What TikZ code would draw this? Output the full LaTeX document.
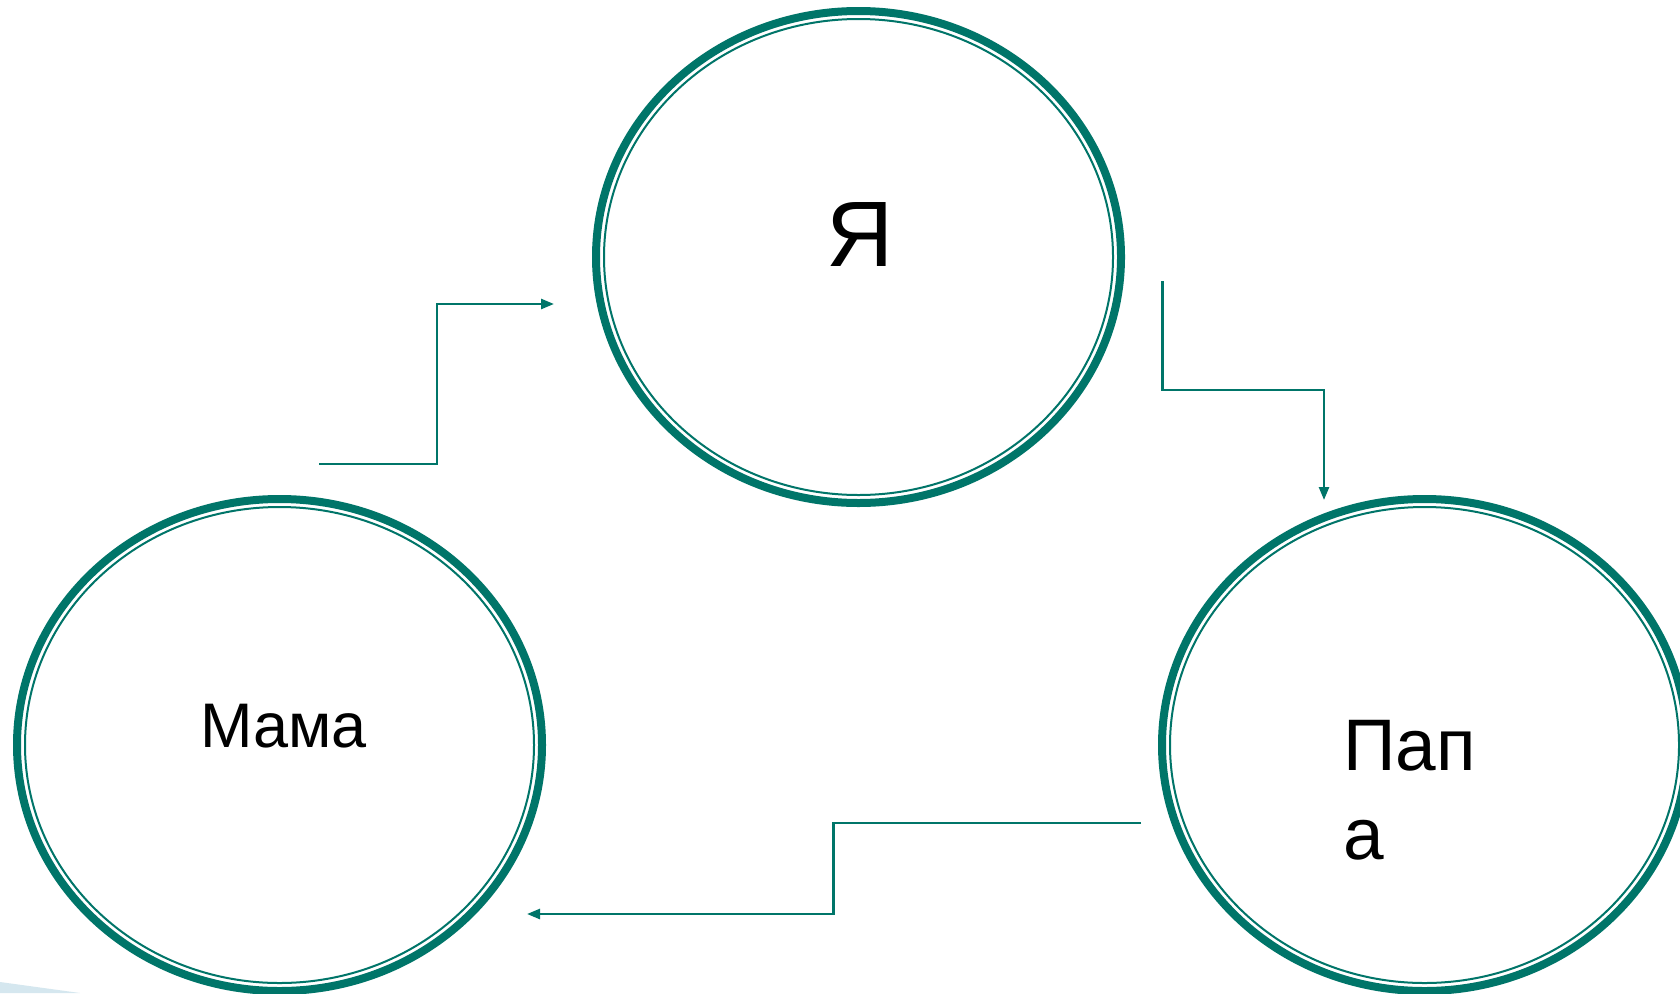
\documentclass[tikz,border=0pt]{standalone}
\usepackage{fontspec}
\setmainfont{Liberation Sans}
\usetikzlibrary{shapes.geometric,arrows.meta}
\definecolor{teal}{RGB}{0,117,105}
\definecolor{paleblue}{RGB}{213,231,239}
\tikzset{
  ring/.style={ellipse, draw=teal, line width=8pt, inner sep=0pt, outer sep=0pt,
               minimum width=525pt, minimum height=492pt},
  innerring/.style={draw=teal, line width=2pt},
  conn/.style={draw=teal, line width=2.5pt, -{Triangle[length=13pt,width=10pt]}},
  lbl/.style={inner sep=0pt, outer sep=0pt, text=black, anchor=base west}
}
\begin{document}
\begin{tikzpicture}[x=1pt,y=-1pt]
\useasboundingbox (0,0) rectangle (1680,993);
\clip (0,0) rectangle (1680,993);
\fill[white] (0,0) rectangle (1680,993);
\fill[paleblue] (0,982) -- (80,993) -- (0,993) -- cycle;
% ellipses
\node[ring] (ya) at (858.5,257) {};
\node[ring] (mama) at (279.5,745) {};
\node[ring] (papa) at (1424.5,745) {};
\foreach \n in {ya,mama,papa}
  \draw[innerring] (\n.center) ellipse [x radius=254.5, y radius=238];
% labels
\node[lbl, font=\fontsize{93}{100}\selectfont] (tya) at (826,266) {Я};
\node[lbl, font=\fontsize{63}{70}\selectfont] (tmama) at (200,747) {Мама};
\node[lbl, font=\fontsize{73}{89}\selectfont, align=left] (tpapa) at (1343,859) {Пап\\а};
% connectors
\coordinate (m1) at (319,464);
\coordinate (y1) at (554,304);
\coordinate (y2) at (1162.5,281);
\coordinate (p1) at (1324,500);
\coordinate (p2) at (1141,823);
\coordinate (m2) at (527,914);
\draw[conn] (m1) -- ++(118,0) |- (y1);
\draw[conn] (y2) -- ++(0,109) -| (p1);
\draw[conn] (p2) -- ++(-307.5,0) |- (m2);
\end{tikzpicture}
\end{document}
